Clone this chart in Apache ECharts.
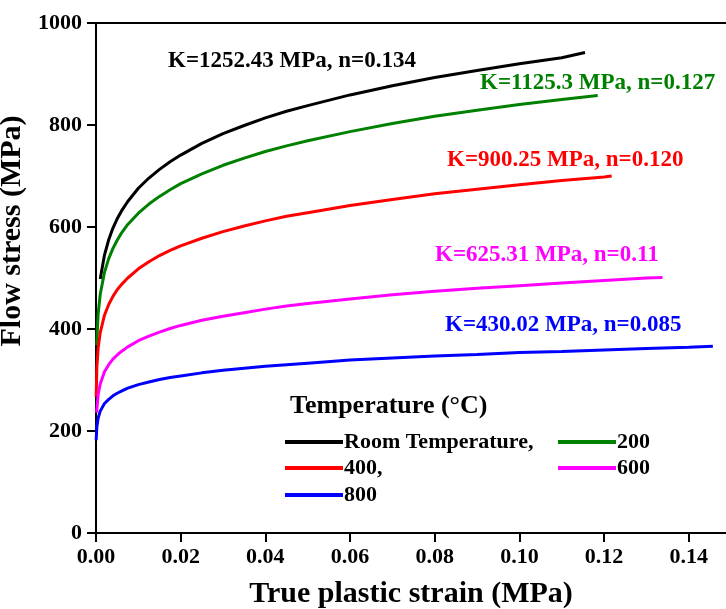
<!DOCTYPE html>
<html>
<head>
<meta charset="utf-8">
<script src="https://cdn.jsdelivr.net/npm/echarts@6/dist/echarts.min.js"></script>
<style>
  html, body { margin: 0; padding: 0; background: #fff; }
  #chart { width: 726px; height: 609px; }
</style>
</head>
<body>
<div id="chart"></div>
<script>
// values (strain, flow stress MPa)
const roomTemp = [
  [0.001, 498], [0.002, 545], [0.003, 575], [0.004, 598], [0.005, 616], [0.006, 631],
  [0.0075, 650], [0.01, 676], [0.0125, 696], [0.015, 713], [0.0175, 728], [0.02, 741],
  [0.025, 764], [0.03, 783], [0.035, 799], [0.04, 814], [0.045, 827], [0.05, 838],
  [0.06, 859], [0.07, 877], [0.08, 893], [0.09, 907], [0.10, 920], [0.11, 932], [0.1155, 942]
]
const temp200 = [
  [0.00015, 368], [0.0005, 429], [0.001, 468], [0.002, 511], [0.003, 538], [0.004, 558],
  [0.005, 574], [0.006, 588], [0.0075, 605], [0.01, 627], [0.0125, 645], [0.015, 660],
  [0.0175, 673], [0.02, 685], [0.025, 704], [0.03, 721], [0.035, 735], [0.04, 748],
  [0.045, 759], [0.05, 769], [0.06, 787], [0.07, 803], [0.08, 817], [0.09, 829],
  [0.10, 840], [0.11, 850], [0.1185, 858]
]
const temp400 = [
  [0.00004, 267], [0.0002, 324], [0.0005, 362], [0.001, 393], [0.002, 427], [0.003, 448],
  [0.004, 464], [0.005, 477], [0.006, 487], [0.0075, 500], [0.01, 518], [0.0125, 532],
  [0.015, 544], [0.0175, 554], [0.02, 563], [0.025, 578], [0.03, 591], [0.035, 602],
  [0.04, 612], [0.045, 621], [0.05, 628], [0.06, 642], [0.07, 654], [0.08, 665],
  [0.09, 674], [0.10, 683], [0.11, 691], [0.12, 698], [0.1218, 700]
]
const temp600 = [
  [0.00014, 236], [0.0005, 271], [0.001, 292], [0.002, 316], [0.003, 330], [0.004, 341],
  [0.005, 349], [0.006, 356], [0.0075, 365], [0.01, 377], [0.0125, 386], [0.015, 394],
  [0.0175, 401], [0.02, 407], [0.025, 417], [0.03, 425], [0.035, 432], [0.04, 439],
  [0.045, 445], [0.05, 450], [0.06, 459], [0.07, 467], [0.08, 474], [0.09, 480],
  [0.10, 485], [0.11, 490], [0.12, 495], [0.13, 500], [0.1338, 501]
]
const temp800 = [
  [0.00004, 182], [0.0002, 208], [0.0005, 225], [0.001, 239], [0.002, 254], [0.003, 262],
  [0.004, 269], [0.005, 274], [0.006, 278], [0.0075, 284], [0.01, 291], [0.0125, 296],
  [0.015, 301], [0.0175, 305], [0.02, 308], [0.025, 314], [0.03, 319], [0.035, 323],
  [0.04, 327], [0.045, 330], [0.05, 333], [0.06, 339], [0.07, 343], [0.08, 347],
  [0.09, 350], [0.10, 354], [0.11, 356], [0.12, 359], [0.13, 362], [0.14, 364], [0.1457, 366]
]
const xTicks = [0, 0.02, 0.04, 0.06, 0.08, 0.10, 0.12, 0.14]
const seriesNames = ['Room Temperature,', '200', '400,', '600', '800']
const fitLabels = [
  'K=1252.43 MPa, n=0.134',
  'K=1125.3 MPa, n=0.127',
  'K=900.25 MPa, n=0.120',
  'K=625.31 MPa, n=0.11',
  'K=430.02 MPa, n=0.085'
]

const colors = ['#000000', '#008000', '#ff0000', '#ff00ff', '#0000ff']
const seriesData = [roomTemp, temp200, temp400, temp600, temp800]
const font = 'Liberation Serif'

const chart = echarts.init(document.getElementById('chart'), null, { renderer: 'canvas' })

// legend slots: [left, top]
const legendPos = [[285, 431], [558, 431], [285, 457], [558, 457], [285, 484]]
// fit label anchors: [left, center y]
const labelPos = [[168, 63], [480, 85], [447, 162], [435, 257], [445, 327]]

chart.setOption({
  animation: false,
  backgroundColor: '#fff',
  title: {
    text: 'Temperature (°C)',
    left: 285,
    top: 388,
    textStyle: { fontFamily: font, fontSize: 26, fontWeight: 'bold', color: '#000' }
  },
  legend: seriesNames.map((name, i) => ({
    data: [name],
    left: legendPos[i][0],
    top: legendPos[i][1],
    icon: 'rect',
    itemWidth: 58,
    itemHeight: 4,
    padding: 0,
    textStyle: { fontFamily: font, fontSize: 22, fontWeight: 'bold', color: '#000', padding: [0, 0, 0, -4] }
  })),
  grid: { left: 96, right: 0, top: 23, bottom: 76, containLabel: false, outerBoundsMode: 'none' },
  xAxis: [
    {
      type: 'value',
      min: 0,
      max: 0.1488,
      name: 'True plastic strain (MPa)',
      nameLocation: 'middle',
      nameGap: 46,
      nameTextStyle: { fontFamily: font, fontSize: 30, fontWeight: 'bold', color: '#000' },
      axisLine: { lineStyle: { color: '#000', width: 2 } },
      axisTick: { customValues: xTicks, length: 9, lineStyle: { width: 2, color: '#000' } },
      axisLabel: {
        customValues: xTicks,
        margin: 13,
        formatter: (v) => v.toFixed(2),
        fontFamily: font, fontSize: 22, fontWeight: 'bold', color: '#000'
      },
      splitLine: { show: false }
    },
    {
      type: 'value',
      position: 'top',
      min: 0,
      max: 0.1488,
      axisLine: { show: true, lineStyle: { color: '#000', width: 2 } },
      axisTick: { show: false },
      axisLabel: { show: false },
      splitLine: { show: false }
    }
  ],
  yAxis: {
    type: 'value',
    min: 0,
    max: 1000,
    interval: 200,
    name: 'Flow stress (MPa)',
    nameLocation: 'middle',
    nameGap: 58,
    nameTextStyle: {
      fontFamily: font, fontSize: 30, fontWeight: 'bold', color: '#000',
      padding: [0, 0, 0, 94]
    },
    axisLine: { show: true, lineStyle: { color: '#000', width: 2 } },
    axisTick: { show: true, length: 9, lineStyle: { width: 2, color: '#000' } },
    axisLabel: {
      margin: 14,
      formatter: (v) => String(v),
      fontFamily: font, fontSize: 22, fontWeight: 'bold', color: '#000'
    },
    splitLine: { show: false }
  },
  graphic: fitLabels.map((text, i) => ({
    type: 'text',
    left: labelPos[i][0],
    top: labelPos[i][1] - 13,
    style: {
      text,
      fill: colors[i],
      font: `bold 23px "${font}"`
    }
  })),
  series: seriesNames.map((name, i) => ({
    name,
    type: 'line',
    data: seriesData[i],
    showSymbol: false,
    symbol: 'none',
    smooth: false,
    lineStyle: { color: colors[i], width: 3 },
    itemStyle: { color: colors[i] }
  }))
})
</script>
</body>
</html>
